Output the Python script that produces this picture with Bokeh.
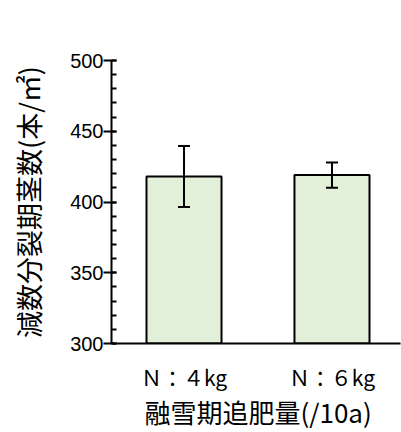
from bokeh.plotting import figure
from bokeh.models import Range1d, FixedTicker, Whisker, ColumnDataSource, TeeHead, Title
from bokeh.embed import file_html
from bokeh.resources import INLINE

categories = ["Ｎ：４kg", "Ｎ：６kg"]
means = [418, 419]
errors = [21.5, 9.0]
y_ticks = [300, 350, 400, 450, 500]
y_title = "減数分裂期茎数(本/㎡)"
x_title = "融雪期追肥量(/10a)"

idx = list(range(len(categories)))
src = ColumnDataSource(dict(
    x=idx,
    top=means,
    upper=[m + e for m, e in zip(means, errors)],
    lower=[m - e for m, e in zip(means, errors)],
))

p = figure(width=401, height=432, output_backend="svg", toolbar_location=None,
           x_range=Range1d(-0.49, 1.463), y_range=Range1d(300, 500),
           min_border_left=111, min_border_right=1, min_border_top=60, min_border_bottom=89)
p.outline_line_color = None
p.xgrid.visible = False
p.ygrid.visible = False

p.vbar(x="x", top="top", bottom=300, width=0.507, source=src,
       fill_color="#e2efd9", line_color="black", line_width=2)

w = Whisker(base="x", upper="upper", lower="lower", source=src,
            line_color="black", line_width=2, level="overlay",
            upper_head=TeeHead(size=12, line_width=2, line_color="black"),
            lower_head=TeeHead(size=12, line_width=2, line_color="black"))
p.add_layout(w)

# y axis
p.yaxis.ticker = FixedTicker(ticks=y_ticks, minor_ticks=list(range(300, 501, 10)))
p.yaxis.axis_line_width = 2
p.yaxis.major_tick_line_width = 2
p.yaxis.minor_tick_line_width = 2
p.yaxis.major_tick_out = 8
p.yaxis.major_tick_in = 5
p.yaxis.minor_tick_in = 5
p.yaxis.minor_tick_out = 0
p.yaxis.major_label_text_font = "Liberation Sans"
p.yaxis.major_label_text_font_size = "20px"
p.yaxis.major_label_text_color = "black"
p.yaxis.major_label_standoff = 0
p.yaxis.axis_label = y_title
p.yaxis.axis_label_text_font = "Noto Sans CJK JP"
p.yaxis.axis_label_text_font_size = "27px"
p.yaxis.axis_label_text_font_style = "normal"
p.yaxis.axis_label_text_color = "black"
p.yaxis.axis_label_standoff = 19

# x axis
p.xaxis.ticker = FixedTicker(ticks=idx)
p.xaxis.major_label_overrides = {i: c for i, c in zip(idx, categories)}
p.xaxis.axis_line_width = 2
p.xaxis.major_tick_line_color = None
p.xaxis.minor_tick_line_color = None
p.xaxis.major_label_text_font = "Noto Sans CJK JP"
p.xaxis.major_label_text_font_size = "21px"
p.xaxis.major_label_text_color = "black"
p.xaxis.major_label_standoff = 12

p.add_layout(Title(text=x_title, align="left", offset=33, vertical_align="top",
                   standoff=-4, text_font="Noto Sans CJK JP", text_font_size="26px",
                   text_font_style="normal", text_color="black"), "below")

open("out.html", "w").write(file_html(p, INLINE))
